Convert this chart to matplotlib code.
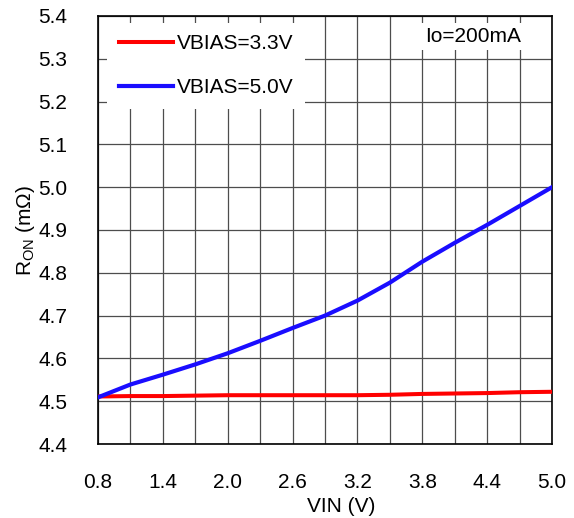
import numpy as np
import matplotlib
matplotlib.use('Agg')
import matplotlib.pyplot as plt

plt.rcParams['font.family'] = ['Liberation Sans', 'DejaVu Sans']
plt.rcParams['mathtext.fontset'] = 'custom'
plt.rcParams['mathtext.rm'] = 'Liberation Sans'
plt.rcParams['mathtext.it'] = 'Liberation Sans'

# on-resistance vs input voltage, Io = 200mA
vin = [0.8, 1.1, 1.4, 1.7, 2.0, 2.3, 2.6, 2.9, 3.2, 3.5, 3.8, 4.1, 4.4, 4.7, 5.0]
ron_vbias_33 = [4.511, 4.512, 4.512, 4.513, 4.514, 4.514, 4.514, 4.514, 4.514,
                4.515, 4.517, 4.518, 4.519, 4.521, 4.522]
ron_vbias_50 = [4.509, 4.539, 4.562, 4.586, 4.612, 4.641, 4.671, 4.700, 4.735,
                4.777, 4.826, 4.870, 4.912, 4.956, 5.000]

fig = plt.figure(figsize=(5.74, 5.18), dpi=100)
ax = fig.add_axes([98 / 574, 1 - 444 / 518, 454 / 574, 428 / 518])

ax.plot(vin, ron_vbias_33, color='#ff0000', lw=2.9, label='VBIAS=3.3V', zorder=3)
ax.plot(vin, ron_vbias_50, color='#1a0dff', lw=3.0, label='VBIAS=5.0V', zorder=3)

ax.set_xlim(0.8, 5.0)
ax.set_ylim(4.4, 5.4)
ax.set_xticks(np.round(np.arange(0.8, 5.01, 0.6), 1))
ax.set_xticks(np.round(np.arange(0.8, 5.01, 0.3), 1), minor=True)
ax.set_yticks(np.round(np.arange(4.4, 5.41, 0.1), 1))
ax.xaxis.set_major_formatter(matplotlib.ticker.FormatStrFormatter('%.1f'))
ax.yaxis.set_major_formatter(matplotlib.ticker.FormatStrFormatter('%.1f'))

ax.grid(True, which='both', color='#4d4d4d', lw=0.9, zorder=1)
ax.set_axisbelow(True)
ax.tick_params(axis='both', which='both', length=0, labelsize=15)
ax.tick_params(axis='x', pad=21)
ax.tick_params(axis='y', pad=22)
for s in ax.spines.values():
    s.set_color('black')
    s.set_linewidth(1.2)

ax.set_xlabel('VIN (V)', fontsize=15)
ax.xaxis.set_label_coords(0.535, -0.124)
ax.set_ylabel(r'R$_{\mathrm{ON}}$ (m$\Omega$)', fontsize=15)
ax.yaxis.set_label_coords(-0.135, 0.5)

leg = ax.legend(loc='upper left', bbox_to_anchor=(0.02, 0.984), fontsize=15,
                frameon=True, fancybox=False, framealpha=1, facecolor='white',
                edgecolor='none', handlelength=2.6, handletextpad=0.2,
                labelspacing=1.2, borderpad=0.55, borderaxespad=0)
leg.set_zorder(4)

ax.text(0.72, 0.975, 'Io=200mA', transform=ax.transAxes, fontsize=15,
        ha='left', va='top', zorder=4,
        bbox=dict(facecolor='white', edgecolor='none', pad=3))

fig.savefig('out.png', dpi=100)
